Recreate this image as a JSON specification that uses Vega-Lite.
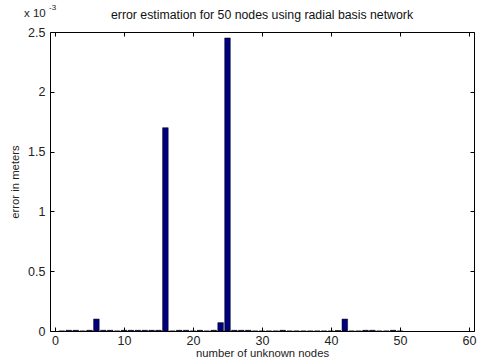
{
  "$schema": "https://vega.github.io/schema/vega-lite/v6.json",
  "width": 424,
  "height": 299,
  "autosize": {"type": "none"},
  "padding": {"left": 50, "top": 32, "right": 4, "bottom": 31},
  "background": "white",
  "config": {
    "font": "Liberation Sans",
    "view": {"stroke": "black", "strokeWidth": 1},
    "axis": {"labelFont": "Liberation Sans", "titleFont": "Liberation Sans", "labelColor": "#222", "titleColor": "#222", "labelFontSize": 12.5, "titleFontSize": 11.3, "titleFontWeight": "normal", "grid": false, "domain": false, "tickColor": "black", "tickSize": -4, "labelOverlap": false}
  },
  "title": {"text": "error estimation for 50 nodes using radial basis network", "fontSize": 12.3, "fontWeight": "normal", "font": "Liberation Sans", "color": "#111", "offset": 10, "dy": 27, "anchor": "middle"},
  "data": {"values": [
    {"node": 1, "error": 0},
    {"node": 2, "error": 0.000006},
    {"node": 3, "error": 0.000006},
    {"node": 4, "error": 0},
    {"node": 5, "error": 0.000006},
    {"node": 6, "error": 0.0001},
    {"node": 7, "error": 0.000006},
    {"node": 8, "error": 0.000006},
    {"node": 9, "error": 0},
    {"node": 10, "error": 0.000006},
    {"node": 11, "error": 0.000006},
    {"node": 12, "error": 0.000006},
    {"node": 13, "error": 0.000006},
    {"node": 14, "error": 0.000006},
    {"node": 15, "error": 0.000006},
    {"node": 16, "error": 0.0017},
    {"node": 17, "error": 0},
    {"node": 18, "error": 0.000006},
    {"node": 19, "error": 0.000006},
    {"node": 20, "error": 0},
    {"node": 21, "error": 0.000006},
    {"node": 22, "error": 0},
    {"node": 23, "error": 0.000006},
    {"node": 24, "error": 0.00007},
    {"node": 25, "error": 0.00245},
    {"node": 26, "error": 0.000006},
    {"node": 27, "error": 0.000006},
    {"node": 28, "error": 0.000006},
    {"node": 29, "error": 0},
    {"node": 30, "error": 0},
    {"node": 31, "error": 0},
    {"node": 32, "error": 0},
    {"node": 33, "error": 0.000006},
    {"node": 34, "error": 0},
    {"node": 35, "error": 0},
    {"node": 36, "error": 0},
    {"node": 37, "error": 0},
    {"node": 38, "error": 0},
    {"node": 39, "error": 0},
    {"node": 40, "error": 0},
    {"node": 41, "error": 0.000004},
    {"node": 42, "error": 0.0001},
    {"node": 43, "error": 0},
    {"node": 44, "error": 0},
    {"node": 45, "error": 0.000006},
    {"node": 46, "error": 0.000006},
    {"node": 47, "error": 0},
    {"node": 48, "error": 0},
    {"node": 49, "error": 0.000006},
    {"node": 50, "error": 0}
  ]},
  "resolve": {"axis": {"x": "independent", "y": "independent"}},
  "layer": [
    {
      "mark": {"type": "bar", "size": 5.6, "color": "#00007f", "stroke": "black", "strokeWidth": 0.5},
      "encoding": {
        "x": {"field": "node", "type": "quantitative", "scale": {"domain": [0, 60], "nice": false}, "axis": {"orient": "bottom", "values": [0, 10, 20, 30, 40, 50, 60], "title": "number of unknown nodes", "labelPadding": 7, "titlePadding": 1, "labelFlush": false, "labelBound": false}},
        "y": {"field": "error", "type": "quantitative", "scale": {"domain": [0, 0.0025], "nice": false}, "axis": {"orient": "left", "values": [0, 0.0005, 0.001, 0.0015, 0.002, 0.0025], "labelExpr": "format(datum.value*1000, '~g')", "title": "error in meters", "labelPadding": 9, "titlePadding": 7, "labelFlush": false}}
      }
    },
    {
      "mark": {"type": "bar", "size": 5.6, "opacity": 0},
      "encoding": {
        "x": {"field": "node", "type": "quantitative", "axis": {"orient": "top", "values": [0, 10, 20, 30, 40, 50, 60], "labels": false, "title": null}},
        "y": {"field": "error", "type": "quantitative", "axis": {"orient": "right", "values": [0, 0.0005, 0.001, 0.0015, 0.002, 0.0025], "labels": false, "title": null}}
      }
    },
    {
      "data": {"values": [{"label": "x 10"}]},
      "mark": {"type": "text", "fontSize": 11.5, "color": "#222", "align": "left", "dx": -31, "dy": -15, "baseline": "alphabetic"},
      "encoding": {
        "text": {"field": "label"},
        "x": {"datum": 0, "type": "quantitative", "axis": null},
        "y": {"datum": 0.0025, "type": "quantitative", "axis": null}
      }
    },
    {
      "data": {"values": [{"label": "-3"}]},
      "mark": {"type": "text", "fontSize": 8, "color": "#222", "align": "left", "dx": -6, "dy": -22, "baseline": "alphabetic"},
      "encoding": {
        "text": {"field": "label"},
        "x": {"datum": 0, "type": "quantitative", "axis": null},
        "y": {"datum": 0.0025, "type": "quantitative", "axis": null}
      }
    }
  ]
}
